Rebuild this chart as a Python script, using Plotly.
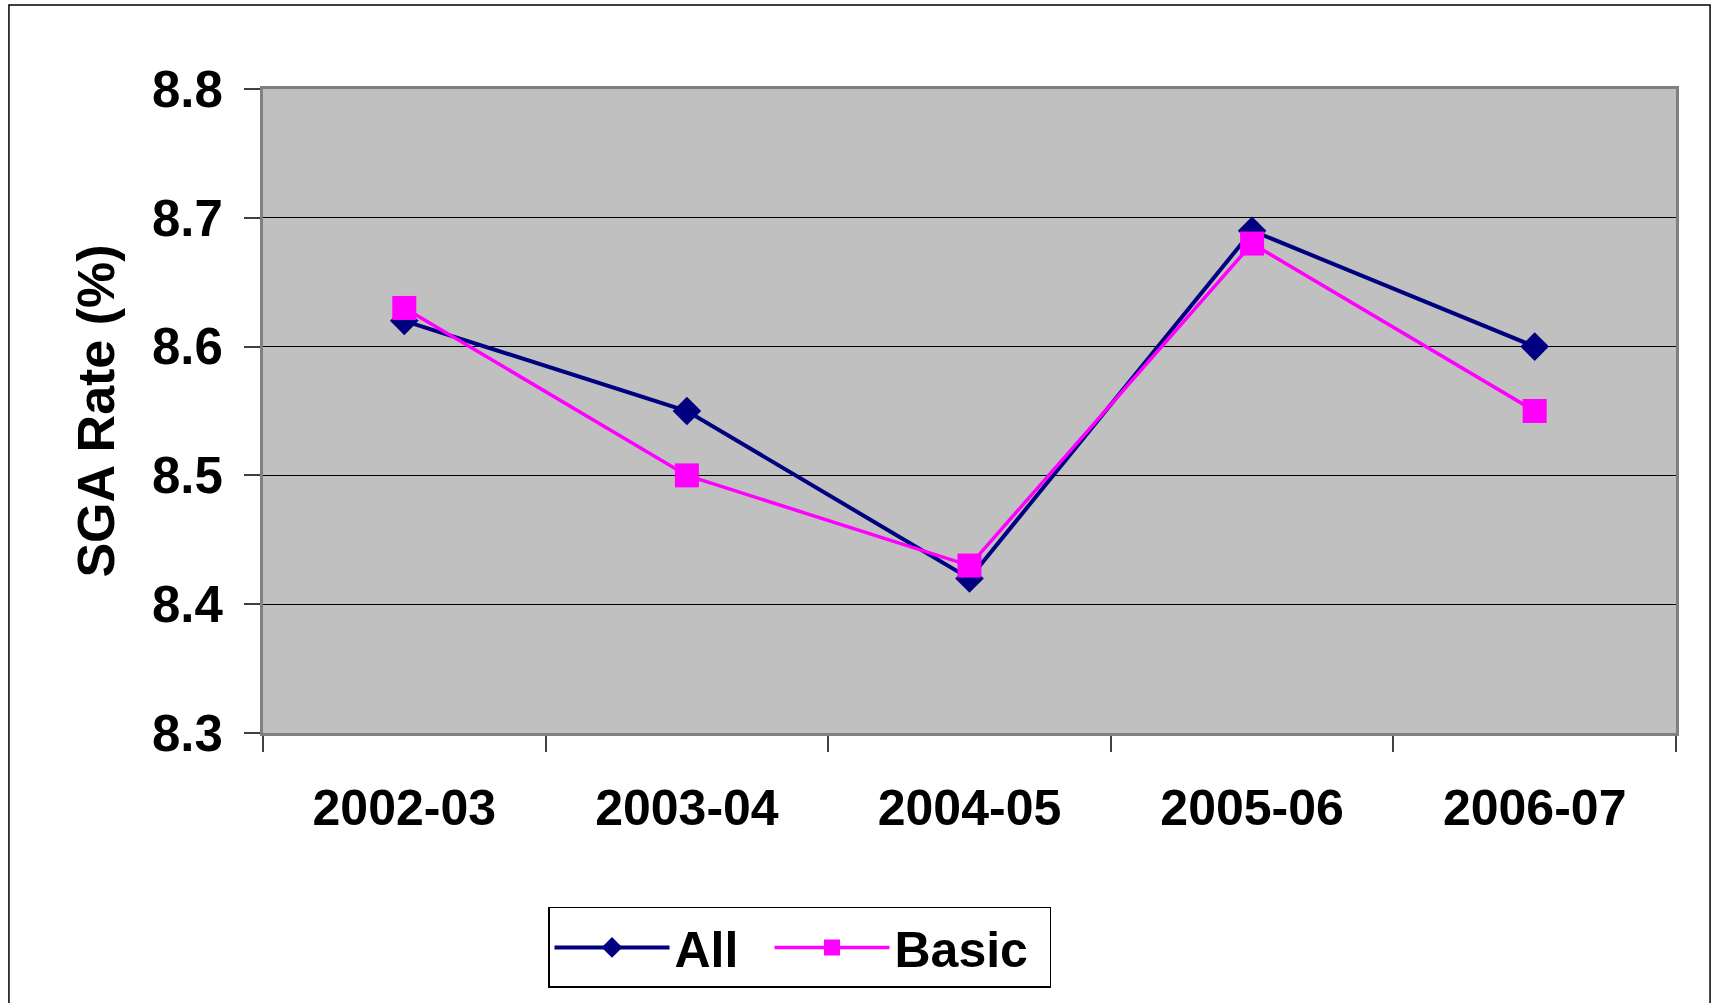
import plotly.graph_objects as go

# Fiscal years on the category axis
years = ["2002-03", "2003-04", "2004-05", "2005-06", "2006-07"]

# SGA rate (%) per series
sga_all = [8.62, 8.55, 8.42, 8.69, 8.60]
sga_basic = [8.63, 8.50, 8.43, 8.68, 8.55]

# Value axis ticks
y_ticks = [8.3, 8.4, 8.5, 8.6, 8.7, 8.8]
y_tick_text = ["8.3", "8.4", "8.5", "8.6", "8.7", "8.8"]

FONT = "Liberation Sans, Arial, sans-serif"

fig = go.Figure()

fig.add_trace(go.Scatter(
    x=years, y=sga_all, name="All", mode="lines+markers",
    line=dict(color="#000080", width=4),
    marker=dict(symbol="diamond", size=22, color="#000080"),
    legendwidth=90,
))
fig.add_trace(go.Scatter(
    x=years, y=sga_basic, name="Basic", mode="lines+markers",
    line=dict(color="#FF00FF", width=3.5),
    marker=dict(symbol="square", size=24, color="#FF00FF"),
    legendwidth=150,
))

fig.update_xaxes(
    type="category", range=[-0.5, 4.5], tickson="boundaries",
    ticks="outside", ticklen=16, tickwidth=1.5, tickcolor="#404040",
    showgrid=False, showline=True, linecolor="#808080", linewidth=3, mirror=True,
    tickfont=dict(family=FONT, size=50, color="black", weight="bold"),
    ticklabelstandoff=29,
)
fig.update_yaxes(
    range=[8.3, 8.8], tickvals=y_ticks, ticktext=y_tick_text,
    ticks="outside", ticklen=16, tickwidth=1.5, tickcolor="#404040",
    showgrid=True, gridcolor="black", gridwidth=1, zeroline=False,
    showline=True, linecolor="#808080", linewidth=3, mirror=True,
    tickfont=dict(family=FONT, size=51, color="black", weight="bold"),
    ticklabelstandoff=11,
    title=dict(text="SGA Rate (%)", standoff=21,
               font=dict(family=FONT, size=52, color="black", weight="bold")),
)

# Outer chart border
fig.add_shape(type="rect", xref="paper", yref="paper",
              x0=-0.1798, x1=1.0241, y0=-0.45, y1=1.1304,
              line=dict(color="black", width=1.5), layer="below")

fig.update_layout(
    width=1713, height=1003,
    margin=dict(l=263, r=37, t=89, b=270),
    paper_bgcolor="white", plot_bgcolor="#C0C0C0",
    showlegend=True,
    legend=dict(
        orientation="h", x=0.2017, y=-0.270, xanchor="left", yanchor="top",
        bordercolor="black", borderwidth=1.5, bgcolor="white",
        font=dict(family=FONT, size=50, color="black", weight="bold"),
        itemwidth=115,
    ),
)

fig.write_html("out.html")
